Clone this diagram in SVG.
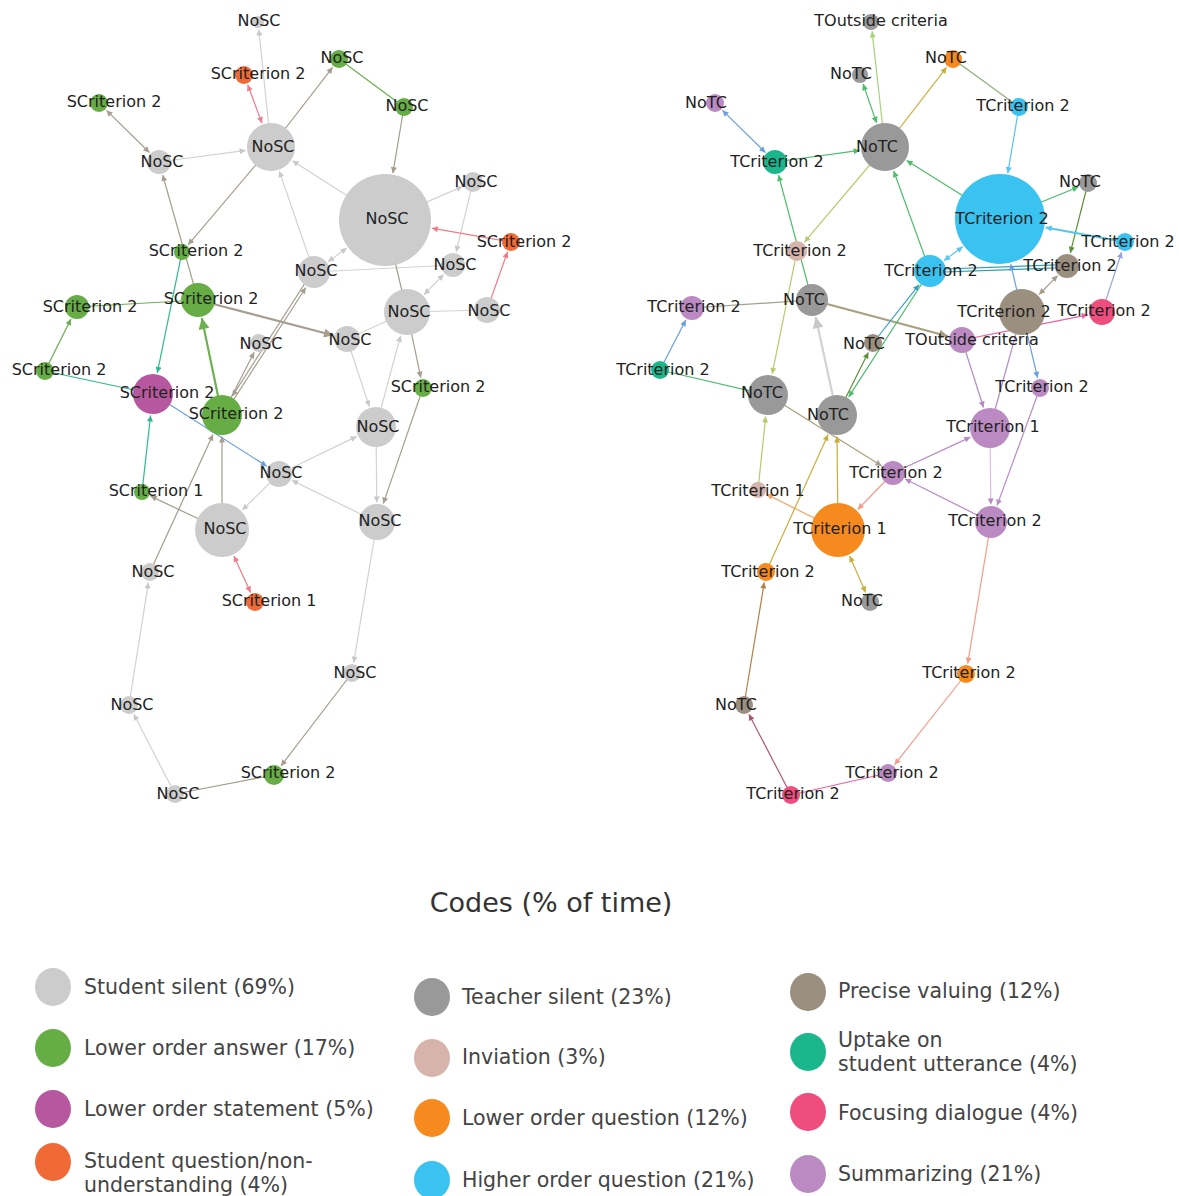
<svg xmlns="http://www.w3.org/2000/svg" width="1179" height="1196" viewBox="0 0 1179 1196">
<style>
.bg{fill:#fff}
.e{fill:none;stroke-width:1.2}
.t{stroke-width:2.2}
.lg{stroke:#d2d2d2}.br{stroke:#a59d8e}.pk{stroke:#f07a8a}.gr{stroke:#6cb04f}.tl{stroke:#2cb98e}.bl{stroke:#6a9ee0}
.lgr{stroke:#a8d27c}.gn{stroke:#4cbd6c}.gd{stroke:#c9ad3c}.ol{stroke:#8fae7e}.lb{stroke:#55c5f0}.yg{stroke:#b9c96c}.do{stroke:#5e8e3a}.lv{stroke:#9aa3dc}.pm{stroke:#e862a0}.pp{stroke:#b78ac4}.lp{stroke:#d8bfe0}.sa{stroke:#f59a8c}.or{stroke:#f5a05c}.bo{stroke:#b5814a}.mr{stroke:#b0566e}.tq{stroke:#2a9fb5}.bd{stroke:#3a9fc8}.ob{stroke:#a8a07e}
.ss{fill:#cccccc}.la{fill:#66ad45}.ls{fill:#b6579f}.sq{fill:#f06a38}
.ts{fill:#999999}.iv{fill:#d6b4ac}.lq{fill:#f68a1f}.hq{fill:#3ac2f0}.pv{fill:#9b8f80}.up{fill:#1bb68c}.fd{fill:#ee4d7d}.sm{fill:#bb8ac3}
text{font-family:"DejaVu Sans",Verdana,sans-serif}
.node text{font-size:16px;fill:#222;text-anchor:middle}
.lt{font-size:20.5px;fill:#444}
.ttl{font-size:27px;fill:#333;text-anchor:middle}
</style>
<defs>
<marker id="a-lg" viewBox="0 0 10 10" refX="10" refY="5" markerWidth="7" markerHeight="6" markerUnits="userSpaceOnUse" orient="auto-start-reverse"><path d="M0,0L10,5L0,10z" fill="#c8c8c8"/></marker>
<marker id="a-lgL" viewBox="0 0 10 10" refX="10" refY="5" markerWidth="12" markerHeight="11" markerUnits="userSpaceOnUse" orient="auto-start-reverse"><path d="M0,0L10,5L0,10z" fill="#c8c8c8"/></marker>
<marker id="a-br" viewBox="0 0 10 10" refX="10" refY="5" markerWidth="7" markerHeight="6" markerUnits="userSpaceOnUse" orient="auto-start-reverse"><path d="M0,0L10,5L0,10z" fill="#a59d8e"/></marker>
<marker id="a-brL" viewBox="0 0 10 10" refX="10" refY="5" markerWidth="11" markerHeight="9" markerUnits="userSpaceOnUse" orient="auto-start-reverse"><path d="M0,0L10,5L0,10z" fill="#a59d8e"/></marker>
<marker id="a-obL" viewBox="0 0 10 10" refX="10" refY="5" markerWidth="11" markerHeight="9" markerUnits="userSpaceOnUse" orient="auto-start-reverse"><path d="M0,0L10,5L0,10z" fill="#a8a07e"/></marker>
<marker id="a-pk" viewBox="0 0 10 10" refX="10" refY="5" markerWidth="7" markerHeight="6" markerUnits="userSpaceOnUse" orient="auto-start-reverse"><path d="M0,0L10,5L0,10z" fill="#f07a8a"/></marker>
<marker id="a-gr" viewBox="0 0 10 10" refX="10" refY="5" markerWidth="7" markerHeight="6" markerUnits="userSpaceOnUse" orient="auto-start-reverse"><path d="M0,0L10,5L0,10z" fill="#6cb04f"/></marker>
<marker id="a-grL" viewBox="0 0 10 10" refX="10" refY="5" markerWidth="12" markerHeight="11" markerUnits="userSpaceOnUse" orient="auto-start-reverse"><path d="M0,0L10,5L0,10z" fill="#6cb04f"/></marker>
<marker id="a-tl" viewBox="0 0 10 10" refX="10" refY="5" markerWidth="7" markerHeight="6" markerUnits="userSpaceOnUse" orient="auto-start-reverse"><path d="M0,0L10,5L0,10z" fill="#2cb98e"/></marker>
<marker id="a-bl" viewBox="0 0 10 10" refX="10" refY="5" markerWidth="7" markerHeight="6" markerUnits="userSpaceOnUse" orient="auto-start-reverse"><path d="M0,0L10,5L0,10z" fill="#6a9ee0"/></marker>
<marker id="a-bd" viewBox="0 0 10 10" refX="10" refY="5" markerWidth="7" markerHeight="6" markerUnits="userSpaceOnUse" orient="auto-start-reverse"><path d="M0,0L10,5L0,10z" fill="#3a9fc8"/></marker>
<marker id="a-lgr" viewBox="0 0 10 10" refX="10" refY="5" markerWidth="7" markerHeight="6" markerUnits="userSpaceOnUse" orient="auto-start-reverse"><path d="M0,0L10,5L0,10z" fill="#a8d27c"/></marker>
<marker id="a-gn" viewBox="0 0 10 10" refX="10" refY="5" markerWidth="7" markerHeight="6" markerUnits="userSpaceOnUse" orient="auto-start-reverse"><path d="M0,0L10,5L0,10z" fill="#4cbd6c"/></marker>
<marker id="a-gd" viewBox="0 0 10 10" refX="10" refY="5" markerWidth="7" markerHeight="6" markerUnits="userSpaceOnUse" orient="auto-start-reverse"><path d="M0,0L10,5L0,10z" fill="#c9ad3c"/></marker>
<marker id="a-lb" viewBox="0 0 10 10" refX="10" refY="5" markerWidth="7" markerHeight="6" markerUnits="userSpaceOnUse" orient="auto-start-reverse"><path d="M0,0L10,5L0,10z" fill="#55c5f0"/></marker>
<marker id="a-yg" viewBox="0 0 10 10" refX="10" refY="5" markerWidth="7" markerHeight="6" markerUnits="userSpaceOnUse" orient="auto-start-reverse"><path d="M0,0L10,5L0,10z" fill="#b9c96c"/></marker>
<marker id="a-do" viewBox="0 0 10 10" refX="10" refY="5" markerWidth="7" markerHeight="6" markerUnits="userSpaceOnUse" orient="auto-start-reverse"><path d="M0,0L10,5L0,10z" fill="#5e8e3a"/></marker>
<marker id="a-lv" viewBox="0 0 10 10" refX="10" refY="5" markerWidth="7" markerHeight="6" markerUnits="userSpaceOnUse" orient="auto-start-reverse"><path d="M0,0L10,5L0,10z" fill="#9aa3dc"/></marker>
<marker id="a-pm" viewBox="0 0 10 10" refX="10" refY="5" markerWidth="7" markerHeight="6" markerUnits="userSpaceOnUse" orient="auto-start-reverse"><path d="M0,0L10,5L0,10z" fill="#e862a0"/></marker>
<marker id="a-pp" viewBox="0 0 10 10" refX="10" refY="5" markerWidth="7" markerHeight="6" markerUnits="userSpaceOnUse" orient="auto-start-reverse"><path d="M0,0L10,5L0,10z" fill="#b78ac4"/></marker>
<marker id="a-sa" viewBox="0 0 10 10" refX="10" refY="5" markerWidth="7" markerHeight="6" markerUnits="userSpaceOnUse" orient="auto-start-reverse"><path d="M0,0L10,5L0,10z" fill="#f59a8c"/></marker>
<marker id="a-or" viewBox="0 0 10 10" refX="10" refY="5" markerWidth="7" markerHeight="6" markerUnits="userSpaceOnUse" orient="auto-start-reverse"><path d="M0,0L10,5L0,10z" fill="#f5a05c"/></marker>
<marker id="a-bo" viewBox="0 0 10 10" refX="10" refY="5" markerWidth="7" markerHeight="6" markerUnits="userSpaceOnUse" orient="auto-start-reverse"><path d="M0,0L10,5L0,10z" fill="#b5814a"/></marker>
<marker id="a-mr" viewBox="0 0 10 10" refX="10" refY="5" markerWidth="7" markerHeight="6" markerUnits="userSpaceOnUse" orient="auto-start-reverse"><path d="M0,0L10,5L0,10z" fill="#b0566e"/></marker>
</defs>
<rect class="bg" width="1179" height="1196"/>
<g id="connectors">
<line class="e lg" x1="271" y1="147" x2="258.8" y2="29.5" marker-end="url(#a-lg)"/>
<line class="e pk" x1="247.7" y1="84.8" x2="262" y2="123.1" marker-start="url(#a-pk)" marker-end="url(#a-pk)"/>
<line class="e br" x1="271" y1="147" x2="332.6" y2="67.3" marker-end="url(#a-br)"/>
<line class="e gr" x1="339" y1="59" x2="404" y2="107"/>
<line class="e br" x1="404" y1="107" x2="392.9" y2="173.2" marker-end="url(#a-br)"/>
<line class="e br" x1="106.5" y1="110.4" x2="149.4" y2="152.5" marker-start="url(#a-br)" marker-end="url(#a-br)"/>
<line class="e lg" x1="159" y1="162" x2="245.7" y2="150.4" marker-end="url(#a-lg)"/>
<line class="e lg" x1="385" y1="220" x2="292.5" y2="160.7" marker-end="url(#a-lg)"/>
<line class="e br" x1="271" y1="147" x2="188.1" y2="244.8" marker-end="url(#a-br)"/>
<line class="e br" x1="198" y1="300" x2="162.7" y2="175" marker-end="url(#a-br)"/>
<line class="e tl" x1="182" y1="252" x2="157.3" y2="372.9" marker-end="url(#a-tl)"/>
<line class="e lg" x1="314" y1="272" x2="279.3" y2="171.1" marker-end="url(#a-lg)"/>
<line class="e lg" x1="346.7" y1="248.1" x2="328.1" y2="261.7" marker-start="url(#a-lg)" marker-end="url(#a-lg)"/>
<line class="e lg" x1="385" y1="220" x2="462.4" y2="186.6" marker-end="url(#a-lg)"/>
<line class="e lg" x1="473" y1="182" x2="456.2" y2="251.9" marker-end="url(#a-lg)"/>
<line class="e pk" x1="511" y1="242" x2="431.8" y2="228.2" marker-end="url(#a-pk)"/>
<line class="e pk" x1="487" y1="310" x2="507.5" y2="251.9" marker-end="url(#a-pk)"/>
<line class="e lg" x1="453" y1="265" x2="314" y2="272"/>
<line class="e lg" x1="443.6" y1="274.6" x2="424.1" y2="294.5" marker-start="url(#a-lg)" marker-end="url(#a-lg)"/>
<line class="e br" x1="385" y1="220" x2="407" y2="312"/>
<line class="e lg" x1="487" y1="310" x2="407" y2="312"/>
<line class="e br" x1="407" y1="312" x2="420.8" y2="377.7" marker-end="url(#a-br)"/>
<line class="e br t" x1="198" y1="300" x2="333" y2="335.3" marker-end="url(#a-brL)"/>
<line class="e lg" x1="347" y1="339" x2="407" y2="312"/>
<line class="e lg" x1="347" y1="339" x2="369.3" y2="406.6" marker-end="url(#a-lg)"/>
<line class="e lg" x1="376" y1="427" x2="400.6" y2="335.7" marker-end="url(#a-lg)"/>
<line class="e gr" x1="77" y1="307" x2="198" y2="300"/>
<line class="e gr" x1="45" y1="371" x2="71" y2="319.1" marker-end="url(#a-gr)"/>
<line class="e tl" x1="45" y1="371" x2="153" y2="394"/>
<line class="e gr t" x1="222" y1="415" x2="201.8" y2="318.1" marker-end="url(#a-grL)"/>
<line class="e br" x1="223.3" y1="415.8" x2="305.8" y2="287.5" marker-end="url(#a-br)"/>
<line class="e br" x1="312.7" y1="271.2" x2="232.3" y2="396.1" marker-end="url(#a-br)"/>
<line class="e br" x1="222" y1="415" x2="254.2" y2="352.3" marker-end="url(#a-br)"/>
<line class="e bl" x1="153" y1="394" x2="266.8" y2="466.2" marker-end="url(#a-bl)"/>
<line class="e tl" x1="142" y1="492" x2="150.6" y2="415.4" marker-end="url(#a-tl)"/>
<line class="e br" x1="222" y1="530" x2="150.6" y2="496.1" marker-end="url(#a-br)"/>
<line class="e br" x1="222" y1="530" x2="222" y2="436.5" marker-end="url(#a-br)"/>
<line class="e br" x1="150" y1="572" x2="213" y2="434.5" marker-end="url(#a-br)"/>
<line class="e lg" x1="279" y1="474" x2="242.3" y2="510" marker-end="url(#a-lg)"/>
<line class="e lg" x1="279" y1="474" x2="356.7" y2="436.4" marker-end="url(#a-lg)"/>
<line class="e lg" x1="377" y1="522" x2="292" y2="480.4" marker-end="url(#a-lg)"/>
<line class="e lg" x1="376" y1="427" x2="376.8" y2="502.5" marker-end="url(#a-lg)"/>
<line class="e br" x1="423" y1="388" x2="383.3" y2="503.6" marker-end="url(#a-br)"/>
<line class="e pk" x1="233.9" y1="555.9" x2="250.6" y2="592.5" marker-start="url(#a-pk)" marker-end="url(#a-pk)"/>
<line class="e lg" x1="377" y1="522" x2="353.7" y2="662.6" marker-end="url(#a-lg)"/>
<line class="e br" x1="352" y1="673" x2="281" y2="765.9" marker-end="url(#a-br)"/>
<line class="e br" x1="175" y1="794" x2="274" y2="775"/>
<line class="e lg" x1="175" y1="794" x2="133.8" y2="714.3" marker-end="url(#a-lg)"/>
<line class="e lg" x1="129" y1="705" x2="148.4" y2="582.4" marker-end="url(#a-lg)"/>

<line class="e lgr" x1="885" y1="147" x2="872.1" y2="31.4" marker-end="url(#a-lgr)"/>
<line class="e gn" x1="876.6" y1="122.9" x2="863.1" y2="84" marker-start="url(#a-gn)" marker-end="url(#a-gn)"/>
<line class="e gd" x1="885" y1="147" x2="946.6" y2="67.3" marker-end="url(#a-gd)"/>
<line class="e ol" x1="953" y1="59" x2="1019" y2="107"/>
<line class="e lb" x1="1019" y1="107" x2="1007.8" y2="173.2" marker-end="url(#a-lb)"/>
<line class="e bl" x1="722.5" y1="110.4" x2="765.4" y2="152.5" marker-start="url(#a-bl)" marker-end="url(#a-bl)"/>
<line class="e gn" x1="775" y1="162" x2="859.7" y2="150.4" marker-end="url(#a-gn)"/>
<line class="e gn" x1="1000" y1="219" x2="906.6" y2="160.5" marker-end="url(#a-gn)"/>
<line class="e yg" x1="885" y1="147" x2="804.4" y2="242.2" marker-end="url(#a-yg)"/>
<line class="e gn" x1="812" y1="300" x2="778.5" y2="175" marker-end="url(#a-gn)"/>
<line class="e yg" x1="797" y1="251" x2="772.2" y2="373.9" marker-end="url(#a-yg)"/>
<line class="e gn" x1="930" y1="271" x2="893.7" y2="171" marker-end="url(#a-gn)"/>
<line class="e gn" x1="1000" y1="219" x2="1078.3" y2="187" marker-end="url(#a-gn)"/>
<line class="e do" x1="1088" y1="183" x2="1070.3" y2="252.9" marker-end="url(#a-do)"/>
<line class="e lb" style="stroke-width:2" x1="1125" y1="242" x2="1045.7" y2="227.4" marker-end="url(#a-lb)"/>
<line class="e lb" x1="962.7" y1="246.7" x2="944.1" y2="260.6" marker-start="url(#a-lb)" marker-end="url(#a-lb)"/>
<line class="e tq" x1="930" y1="269.5" x2="1067" y2="264.5"/>
<line class="e tq" x1="930" y1="272.5" x2="1067" y2="267.5"/>
<line class="e bl" x1="1022" y1="312" x2="1010.7" y2="264.2" marker-end="url(#a-bl)"/>
<line class="e br" x1="1039.1" y1="294.5" x2="1057.6" y2="275.6" marker-start="url(#a-br)" marker-end="url(#a-br)"/>
<line class="e lv" x1="1102" y1="312" x2="1121.7" y2="252" marker-end="url(#a-lv)"/>
<line class="e pm" x1="962" y1="340" x2="1087.8" y2="314.8" marker-end="url(#a-pm)"/>
<line class="e ob t" x1="812" y1="300" x2="948" y2="336.3" marker-end="url(#a-obL)"/>
<line class="e br" x1="692" y1="308" x2="812" y2="300"/>
<line class="e bl" x1="660" y1="370" x2="685.8" y2="320" marker-end="url(#a-bl)"/>
<line class="e gn" x1="660" y1="370" x2="768" y2="395"/>
<line class="e lg t" x1="837" y1="415" x2="815.7" y2="317.1" marker-end="url(#a-lgL)"/>
<line class="e bd" x1="873" y1="343" x2="919.1" y2="284.7" marker-end="url(#a-bd)"/>
<line class="e gn" x1="930" y1="271" x2="848.7" y2="396.9" marker-end="url(#a-gn)"/>
<line class="e do" x1="837" y1="415" x2="868.3" y2="352.4" marker-end="url(#a-do)"/>
<line class="e bl" x1="1022" y1="312" x2="1037.6" y2="377.8" marker-end="url(#a-bl)"/>
<line class="e pp" x1="962" y1="340" x2="983.5" y2="407.5" marker-end="url(#a-pp)"/>
<line class="e pp" x1="990" y1="428" x2="1022" y2="312"/>
<line class="e pp" x1="1040" y1="388" x2="997" y2="505.6" marker-end="url(#a-pp)"/>
<line class="e lp" x1="990" y1="428" x2="990.8" y2="504.5" marker-end="url(#a-pp)"/>
<line class="e pp" x1="893" y1="473" x2="970.5" y2="437.1" marker-end="url(#a-pp)"/>
<line class="e pp" x1="991" y1="522" x2="905.1" y2="479" marker-end="url(#a-pp)"/>
<line class="e ob" x1="768" y1="395" x2="881.5" y2="465.8" marker-end="url(#a-br)"/>
<line class="e sa" x1="893" y1="473" x2="857.8" y2="509.5" marker-end="url(#a-sa)"/>
<line class="e or" x1="838" y1="530" x2="766.5" y2="494.2" marker-end="url(#a-or)"/>
<line class="e yg" x1="758" y1="490" x2="765.7" y2="416.4" marker-end="url(#a-yg)"/>
<line class="e gd" x1="838" y1="530" x2="837" y2="436.5" marker-end="url(#a-gd)"/>
<line class="e gd" x1="766" y1="572" x2="828.1" y2="434.6" marker-end="url(#a-gd)"/>
<line class="e gd" x1="849.6" y1="556" x2="865.7" y2="592.4" marker-start="url(#a-gd)" marker-end="url(#a-gd)"/>
<line class="e bo" x1="744" y1="705" x2="764.3" y2="582.4" marker-end="url(#a-bo)"/>
<line class="e mr" x1="791" y1="795" x2="748.9" y2="714.3" marker-end="url(#a-mr)"/>
<line class="e pm" x1="791" y1="795" x2="888" y2="773"/>
<line class="e sa" x1="966" y1="674" x2="894.5" y2="764.7" marker-end="url(#a-sa)"/>
<line class="e sa" x1="991" y1="522" x2="967.7" y2="663.6" marker-end="url(#a-sa)"/>
</g>
<g id="L1" class="node"><circle cx="258" cy="22" r="6" class="ss"/><text x="259" y="26">NoSC</text></g>
<g id="L2" class="node"><circle cx="244" cy="75" r="9" class="sq"/><text x="258" y="79">SCriterion 2</text></g>
<g id="L3" class="node"><circle cx="339" cy="59" r="9" class="la"/><text x="342" y="63">NoSC</text></g>
<g id="L4" class="node"><circle cx="404" cy="107" r="9" class="la"/><text x="407" y="111">NoSC</text></g>
<g id="L5" class="node"><circle cx="99" cy="103" r="9" class="la"/><text x="114" y="107">SCriterion 2</text></g>
<g id="L6" class="node"><circle cx="159" cy="162" r="12" class="ss"/><text x="162" y="167">NoSC</text></g>
<g id="L7" class="node"><circle cx="271" cy="147" r="24" class="ss"/><text x="273" y="152">NoSC</text></g>
<g id="L8" class="node"><circle cx="385" cy="220" r="46" class="ss"/><text x="387" y="224">NoSC</text></g>
<g id="L9" class="node"><circle cx="473" cy="182" r="10" class="ss"/><text x="476" y="187">NoSC</text></g>
<g id="L10" class="node"><circle cx="511" cy="242" r="9" class="sq"/><text x="524" y="247">SCriterion 2</text></g>
<g id="L11" class="node"><circle cx="182" cy="252" r="8" class="la"/><text x="196" y="256">SCriterion 2</text></g>
<g id="L12" class="node"><circle cx="314" cy="272" r="16" class="ss"/><text x="316" y="276">NoSC</text></g>
<g id="L13" class="node"><circle cx="453" cy="265" r="12" class="ss"/><text x="455" y="270">NoSC</text></g>
<g id="L14" class="node"><circle cx="407" cy="312" r="23" class="ss"/><text x="409" y="317">NoSC</text></g>
<g id="L15" class="node"><circle cx="487" cy="310" r="13" class="ss"/><text x="489" y="316">NoSC</text></g>
<g id="L16" class="node"><circle cx="77" cy="307" r="12" class="la"/><text x="90" y="312">SCriterion 2</text></g>
<g id="L17" class="node"><circle cx="198" cy="300" r="17" class="la"/><text x="211" y="304">SCriterion 2</text></g>
<g id="L18" class="node"><circle cx="259" cy="343" r="9" class="ss"/><text x="261" y="349">NoSC</text></g>
<g id="L19" class="node"><circle cx="347" cy="339" r="13" class="ss"/><text x="350" y="345">NoSC</text></g>
<g id="L20" class="node"><circle cx="45" cy="371" r="9" class="la"/><text x="59" y="375">SCriterion 2</text></g>
<g id="L21" class="node"><circle cx="153" cy="394" r="20" class="ls"/><text x="167" y="398">SCriterion 2</text></g>
<g id="L22" class="node"><circle cx="222" cy="415" r="20" class="la"/><text x="236" y="419">SCriterion 2</text></g>
<g id="L23" class="node"><circle cx="423" cy="388" r="9" class="la"/><text x="438" y="392">SCriterion 2</text></g>
<g id="L24" class="node"><circle cx="376" cy="427" r="20" class="ss"/><text x="378" y="432">NoSC</text></g>
<g id="L25" class="node"><circle cx="279" cy="474" r="13" class="ss"/><text x="281" y="478">NoSC</text></g>
<g id="L26" class="node"><circle cx="142" cy="492" r="8" class="la"/><text x="156" y="496">SCriterion 1</text></g>
<g id="L27" class="node"><circle cx="222" cy="530" r="27" class="ss"/><text x="225" y="534">NoSC</text></g>
<g id="L28" class="node"><circle cx="377" cy="522" r="18" class="ss"/><text x="380" y="526">NoSC</text></g>
<g id="L29" class="node"><circle cx="150" cy="572" r="9" class="ss"/><text x="153" y="577">NoSC</text></g>
<g id="L30" class="node"><circle cx="255" cy="602" r="9" class="sq"/><text x="269" y="606">SCriterion 1</text></g>
<g id="L31" class="node"><circle cx="352" cy="673" r="9" class="ss"/><text x="355" y="678">NoSC</text></g>
<g id="L32" class="node"><circle cx="129" cy="705" r="9" class="ss"/><text x="132" y="710">NoSC</text></g>
<g id="L33" class="node"><circle cx="274" cy="775" r="10" class="la"/><text x="288" y="778">SCriterion 2</text></g>
<g id="L34" class="node"><circle cx="175" cy="794" r="9" class="ss"/><text x="178" y="799">NoSC</text></g>

<g id="R1" class="node"><circle cx="871" cy="22" r="8" class="ts"/><text x="881" y="26">TOutside criteria</text></g>
<g id="R2" class="node"><circle cx="860" cy="75" r="8" class="ts"/><text x="851" y="79">NoTC</text></g>
<g id="R3" class="node"><circle cx="953" cy="59" r="9" class="lq"/><text x="946" y="63">NoTC</text></g>
<g id="R4" class="node"><circle cx="715" cy="103" r="9" class="sm"/><text x="706" y="108">NoTC</text></g>
<g id="R5" class="node"><circle cx="1019" cy="107" r="9" class="hq"/><text x="1023" y="111">TCriterion 2</text></g>
<g id="R6" class="node"><circle cx="775" cy="162" r="12" class="up"/><text x="777" y="167">TCriterion 2</text></g>
<g id="R7" class="node"><circle cx="885" cy="147" r="24" class="ts"/><text x="877" y="152">NoTC</text></g>
<g id="R8" class="node"><circle cx="1000" cy="219" r="45" class="hq"/><text x="1002" y="224">TCriterion 2</text></g>
<g id="R9" class="node"><circle cx="1088" cy="183" r="9" class="ts"/><text x="1080" y="187">NoTC</text></g>
<g id="R10" class="node"><circle cx="797" cy="251" r="10" class="iv"/><text x="800" y="256">TCriterion 2</text></g>
<g id="R11" class="node"><circle cx="1125" cy="242" r="9" class="hq"/><text x="1128" y="247">TCriterion 2</text></g>
<g id="R12" class="node"><circle cx="930" cy="271" r="16" class="hq"/><text x="931" y="276">TCriterion 2</text></g>
<g id="R13" class="node"><circle cx="1067" cy="266" r="12" class="pv"/><text x="1070" y="271">TCriterion 2</text></g>
<g id="R14" class="node"><circle cx="812" cy="300" r="16" class="ts"/><text x="804" y="305">NoTC</text></g>
<g id="R15" class="node"><circle cx="692" cy="308" r="12" class="sm"/><text x="694" y="312">TCriterion 2</text></g>
<g id="R16" class="node"><circle cx="1022" cy="312" r="23" class="pv"/><text x="1004" y="317">TCriterion 2</text></g>
<g id="R17" class="node"><circle cx="1102" cy="312" r="13" class="fd"/><text x="1104" y="316">TCriterion 2</text></g>
<g id="R18" class="node"><circle cx="873" cy="343" r="9" class="pv"/><text x="864" y="349">NoTC</text></g>
<g id="R19" class="node"><circle cx="962" cy="340" r="13" class="sm"/><text x="972" y="345">TOutside criteria</text></g>
<g id="R20" class="node"><circle cx="660" cy="370" r="9" class="up"/><text x="663" y="375">TCriterion 2</text></g>
<g id="R21" class="node"><circle cx="768" cy="395" r="20" class="ts"/><text x="762" y="398">NoTC</text></g>
<g id="R22" class="node"><circle cx="837" cy="415" r="20" class="ts"/><text x="828" y="420">NoTC</text></g>
<g id="R23" class="node"><circle cx="1040" cy="388" r="9" class="sm"/><text x="1042" y="392">TCriterion 2</text></g>
<g id="R24" class="node"><circle cx="990" cy="428" r="20" class="sm"/><text x="993" y="432">TCriterion 1</text></g>
<g id="R25" class="node"><circle cx="893" cy="473" r="12" class="sm"/><text x="896" y="478">TCriterion 2</text></g>
<g id="R26" class="node"><circle cx="758" cy="490" r="8" class="iv"/><text x="758" y="496">TCriterion 1</text></g>
<g id="R27" class="node"><circle cx="838" cy="530" r="27" class="lq"/><text x="840" y="534">TCriterion 1</text></g>
<g id="R28" class="node"><circle cx="991" cy="522" r="16" class="sm"/><text x="995" y="526">TCriterion 2</text></g>
<g id="R29" class="node"><circle cx="766" cy="572" r="9" class="lq"/><text x="768" y="577">TCriterion 2</text></g>
<g id="R30" class="node"><circle cx="870" cy="602" r="9" class="ts"/><text x="862" y="606">NoTC</text></g>
<g id="R31" class="node"><circle cx="966" cy="674" r="9" class="lq"/><text x="969" y="678">TCriterion 2</text></g>
<g id="R32" class="node"><circle cx="744" cy="705" r="9" class="pv"/><text x="736" y="710">NoTC</text></g>
<g id="R33" class="node"><circle cx="888" cy="773" r="9" class="sm"/><text x="892" y="778">TCriterion 2</text></g>
<g id="R34" class="node"><circle cx="791" cy="795" r="9" class="fd"/><text x="793" y="799">TCriterion 2</text></g>

<g id="legend">
<text class="ttl" x="551" y="912">Codes (% of time)</text>
<ellipse cx="53" cy="987" rx="18" ry="19" class="ss"/><text class="lt" x="84" y="994">Student silent (69%)</text>
<ellipse cx="53" cy="1048" rx="18" ry="19" class="la"/><text class="lt" x="84" y="1055">Lower order answer (17%)</text>
<ellipse cx="53" cy="1109" rx="18" ry="19" class="ls"/><text class="lt" x="84" y="1116">Lower order statement (5%)</text>
<ellipse cx="53" cy="1162" rx="18" ry="19" class="sq"/><text class="lt" x="84" y="1168">Student question/non-</text><text class="lt" x="84" y="1192">understanding (4%)</text>
<ellipse cx="432" cy="997" rx="18" ry="19" class="ts"/><text class="lt" x="462" y="1004">Teacher silent (23%)</text>
<ellipse cx="432" cy="1058" rx="18" ry="19" class="iv"/><text class="lt" x="462" y="1064">Inviation (3%)</text>
<ellipse cx="432" cy="1118" rx="18" ry="19" class="lq"/><text class="lt" x="462" y="1125">Lower order question (12%)</text>
<ellipse cx="432" cy="1180" rx="18" ry="19" class="hq"/><text class="lt" x="462" y="1187">Higher order question (21%)</text>
<ellipse cx="808" cy="992" rx="18" ry="19" class="pv"/><text class="lt" x="838" y="998">Precise valuing (12%)</text>
<ellipse cx="808" cy="1052" rx="18" ry="19" class="up"/><text class="lt" x="838" y="1047">Uptake on</text><text class="lt" x="838" y="1071">student utterance (4%)</text>
<ellipse cx="808" cy="1112" rx="18" ry="19" class="fd"/><text class="lt" x="838" y="1120">Focusing dialogue (4%)</text>
<ellipse cx="808" cy="1174" rx="18" ry="19" class="sm"/><text class="lt" x="838" y="1181">Summarizing (21%)</text>
</g>
</svg>
